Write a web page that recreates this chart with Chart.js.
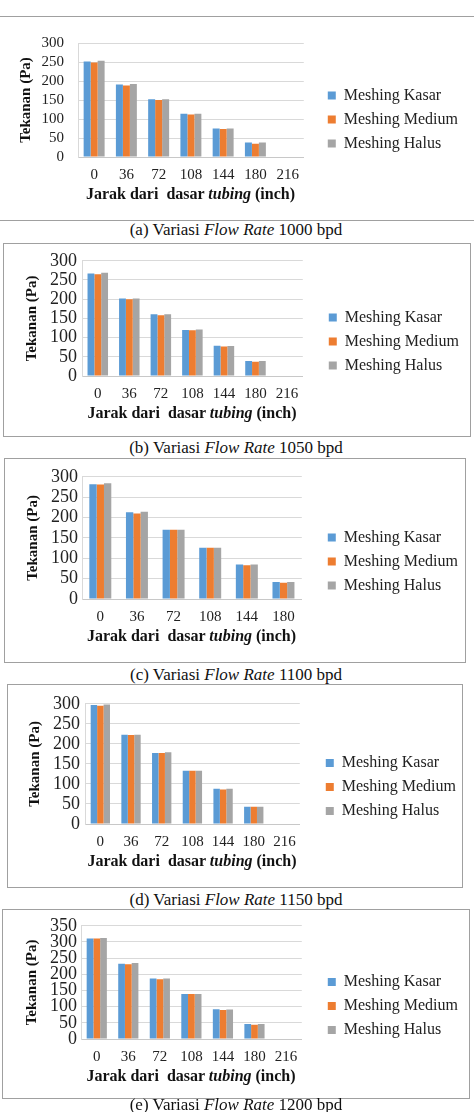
<!DOCTYPE html>
<html>
<head>
<meta charset="utf-8">
<script src="https://cdn.jsdelivr.net/npm/chart.js@4.4.1/dist/chart.umd.min.js"></script>
<style>
  body { margin: 0; background: #fff; }
  #page { position: relative; width: 474px; height: 1112px; overflow: hidden; font-family: "Liberation Serif", "Times New Roman", serif; }
  canvas { position: absolute; left: 0; }
  .box { position: absolute; border: 1px solid #a0a0a0; box-sizing: border-box; }
  .hline { position: absolute; left: 0; width: 474px; height: 0; border-top: 1px solid #a0a0a0; }
  .cap { position: absolute; left: 0; width: 472px; text-align: center; font-size: 17px; line-height: 18px; color: #111; white-space: nowrap; }
  .xt { position: absolute; text-align: center; font-size: 16px; font-weight: bold; line-height: 18px; color: #111; white-space: nowrap; }
</style>
</head>
<body>
<div id="page">
  <div class="hline" style="top:16px"></div>
  <div class="hline" style="top:220px"></div>
  <div class="box" style="left:3px; top:243px; width:468px; height:194px"></div>
  <div class="box" style="left:4px; top:458px; width:462px; height:205px"></div>
  <div class="box" style="left:7px; top:684px; width:456px; height:204px"></div>
  <div class="box" style="left:2px; top:909px; width:468px; height:190px"></div>

  <canvas id="chartA"></canvas>
  <canvas id="chartB"></canvas>
  <canvas id="chartC"></canvas>
  <canvas id="chartD"></canvas>
  <canvas id="chartE"></canvas>

  <div class="cap" style="top:221px">(a) Variasi <i>Flow Rate</i> 1000 bpd</div>
  <div class="cap" style="top:439px">(b) Variasi <i>Flow Rate</i> 1050 bpd</div>
  <div class="cap" style="top:666px">(c) Variasi <i>Flow Rate</i> 1100 bpd</div>
  <div class="cap" style="top:891px">(d) Variasi <i>Flow Rate</i> 1150 bpd</div>
  <div class="cap" style="top:1096px">(e) Variasi <i>Flow Rate</i> 1200 bpd</div>
</div>

<script>
// jarak dari dasar tubing (inch)
const jarak7 = ['0', '36', '72', '108', '144', '180', '216'];
const jarak6 = ['0', '36', '72', '108', '144', '180'];

const seriesNames = ['Meshing Kasar', 'Meshing Medium', 'Meshing Halus'];

// (a) 1000 bpd
const kasarA  = [251, 191, 152, 114, 75, 38, 1];
const mediumA = [249, 188, 150, 112, 74, 35, 1];
const halusA  = [253, 192, 152, 114, 75, 38, 1];

// (b) 1050 bpd
const kasarB  = [267, 202, 161, 120, 79, 39, 0];
const mediumB = [265, 200, 158, 119, 77, 37, 0];
const halusB  = [269, 202, 161, 121, 78, 39, 0];

// (c) 1100 bpd
const kasarC  = [282, 213, 170, 126, 85, 42];
const mediumC = [281, 210, 170, 126, 83, 40];
const halusC  = [284, 214, 170, 126, 85, 42];

// (d) 1150 bpd
const kasarD  = [297, 223, 177, 133, 88, 43, 0];
const mediumD = [295, 222, 177, 133, 86, 43, 0];
const halusD  = [298, 223, 179, 133, 88, 43, 0];

// (e) 1200 bpd
const kasarE  = [311, 233, 187, 139, 92, 46, 0];
const mediumE = [311, 231, 185, 139, 90, 44, 0];
const halusE  = [312, 235, 187, 139, 91, 46, 0];

const colors = ['#5B9BD5', '#ED7D31', '#A5A5A5'];
const fontName = '"Liberation Serif", "Times New Roman", serif';

// lebar legend (sama seperti hitungan Chart.js)
const mctx = document.createElement('canvas').getContext('2d');
mctx.font = '16px ' + fontName;
const legendPad = 8;
const legendBox = 8;
const legendW = legendPad + legendBox + 8 + mctx.measureText('Meshing Medium').width + 10;

function makeChart(id, labels, kasar, medium, halus, g) {
    const padTop = 12, padBottom = 10, xH = 50;
    const canvas = document.getElementById(id);
    const top = g.top - padTop;
    const width = Math.round(g.legendX - legendPad + legendW + 1);
    canvas.width = width;
    canvas.height = g.bottom + xH + padBottom - top;
    canvas.style.top = top + 'px';

    // judul sumbu x (ada kata miring)
    const xt = document.createElement('div');
    xt.className = 'xt';
    xt.innerHTML = 'Jarak dari&nbsp; dasar <i>tubing</i> (inch)';
    xt.style.left = (g.left + g.right) / 2 - 150 + 'px';
    xt.style.width = '300px';
    xt.style.top = (g.bottom + 37 - 9) + 'px';
    document.getElementById('page').appendChild(xt);

    const values = [kasar, medium, halus];

    new Chart(canvas, {
        type: 'bar',
        data: {
            labels: labels,
            datasets: values.map((v, i) => ({
                label: seriesNames[i],
                data: v,
                backgroundColor: colors[i],
                borderWidth: 0,
                categoryPercentage: g.cat,
                barPercentage: 1.0
            }))
        },
        options: {
            responsive: false,
            animation: false,
            layout: { padding: { top: padTop, bottom: padBottom, left: 0, right: 0 } },
            plugins: {
                legend: {
                    position: 'right',
                    align: 'center',
                    maxWidth: 300,
                    labels: {
                        boxWidth: legendBox,
                        boxHeight: legendBox,
                        padding: legendPad,
                        color: '#222',
                        font: { family: fontName, size: 16 }
                    }
                },
                tooltip: { enabled: false }
            },
            scales: {
                x: {
                    grid: { display: false, drawTicks: false },
                    border: { display: true, color: '#c8c8c8' },
                    ticks: { padding: 9, color: '#222', font: { family: fontName, size: 15 }, maxRotation: 0, autoSkip: false },
                    afterFit: s => { s.height = xH; }
                },
                y: {
                    min: 0,
                    max: g.max,
                    grid: { color: '#d9d9d9', drawTicks: false },
                    border: { display: true, color: '#d9d9d9' },
                    ticks: { stepSize: 50, autoSkip: false, padding: g.tickGap, color: '#222', font: { family: fontName, size: g.tickSize } },
                    title: {
                        display: true,
                        text: 'Tekanan (Pa)',
                        color: '#111',
                        font: { family: fontName, size: 15, weight: 'bold' },
                        padding: { top: g.titleX - 9, bottom: 0 }
                    },
                    afterFit: s => { s.width = g.left; }
                },
                // ruang kosong antara plot dan legend
                sp: {
                    type: 'linear',
                    position: 'right',
                    display: true,
                    grid: { display: false },
                    border: { display: false },
                    ticks: { display: false },
                    afterFit: s => { s.width = g.legendX - legendPad - g.right; }
                }
            }
        }
    });
}

makeChart('chartA', jarak7, kasarA, mediumA, halusA,
    { top: 32, bottom: 157, left: 78, right: 303, legendX: 327, titleX: 26, tickGap: 14, tickSize: 15, max: 300, cat: 0.65 });
makeChart('chartB', jarak7, kasarB, mediumB, halusB,
    { top: 257, bottom: 376, left: 82, right: 302, legendX: 328, titleX: 32, tickGap: 5, tickSize: 18, max: 300, cat: 0.65 });
makeChart('chartC', jarak6, kasarC, mediumC, halusC,
    { top: 474, bottom: 599, left: 82, right: 301, legendX: 327, titleX: 33, tickGap: 4, tickSize: 18, max: 300, cat: 0.6 });
makeChart('chartD', jarak7, kasarD, mediumD, halusD,
    { top: 700, bottom: 824, left: 85, right: 299, legendX: 325, titleX: 35, tickGap: 5, tickSize: 18, max: 300, cat: 0.63 });
makeChart('chartE', jarak7, kasarE, mediumE, halusE,
    { top: 923, bottom: 1039, left: 81, right: 301, legendX: 327, titleX: 32, tickGap: 4, tickSize: 18, max: 350, cat: 0.64 });
</script>
</body>
</html>
